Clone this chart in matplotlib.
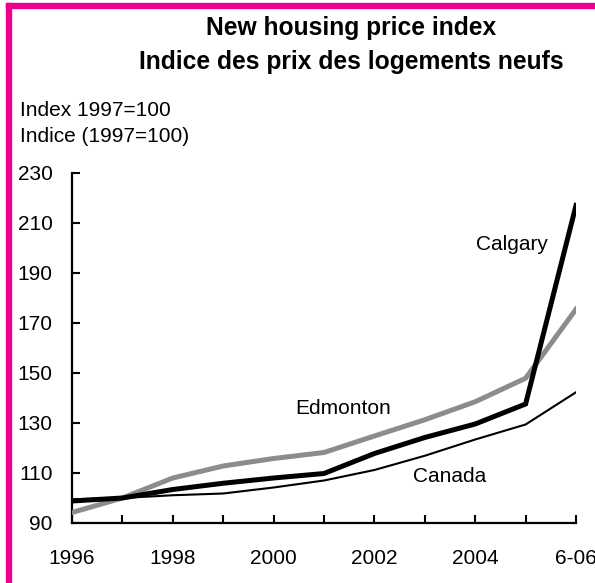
import matplotlib
matplotlib.use("Agg")
import matplotlib.pyplot as plt
from matplotlib.patches import Rectangle

plt.rcParams['font.family'] = ['Liberation Sans', 'DejaVu Sans']

years = [1996, 1997, 1998, 1999, 2000, 2001, 2002, 2003, 2004, 2005, 2006]
calgary = [98.8, 100.0, 103.4, 105.9, 108.0, 109.8, 117.8, 124.2, 129.6, 137.6, 217.0]
edmonton = [94.2, 100.0, 108.0, 112.8, 115.8, 118.2, 124.8, 131.3, 138.5, 147.9, 175.5]
canada = [99.5, 100.0, 101.1, 101.8, 104.2, 107.0, 111.2, 116.9, 123.4, 129.4, 142.3]

xtick_pos = [1996, 1998, 2000, 2002, 2004, 2006]
xtick_labels = ["1996", "1998", "2000", "2002", "2004", "6-06"]
yticks = [90, 110, 130, 150, 170, 190, 210, 230]

W, H = 595, 583
fig = plt.figure(figsize=(W / 100, H / 100), dpi=100)

ax = fig.add_axes([72 / W, (H - 523) / H, (576 - 72) / W, (523 - 173) / H])
ax.set_xlim(1996, 2006)
ax.set_ylim(90, 230)

ax.plot(years, canada, color='black', lw=1.5, solid_joinstyle='miter', zorder=3)
ax.plot(years, edmonton, color='#8c8c8c', lw=3.6, solid_joinstyle='miter', zorder=4)
ax.plot(years, calgary, color='black', lw=3.6, solid_joinstyle='miter', zorder=5)

for s in ['top', 'right']:
    ax.spines[s].set_visible(False)
for s in ['left', 'bottom']:
    ax.spines[s].set_linewidth(1.6)
    ax.spines[s].set_color('black')
ax.spines['left'].set_capstyle('projecting')
ax.spines['bottom'].set_capstyle('projecting')

label_map = dict(zip(xtick_pos, xtick_labels))
ax.set_xticks(years)
ax.set_xticklabels([label_map.get(y, "") for y in years], fontsize=15)
ax.tick_params(axis='x', direction='in', length=6, width=1.5, pad=19)
ax.set_yticks(yticks)
ax.set_yticklabels([str(v) for v in yticks], fontsize=15)
ax.tick_params(axis='y', direction='in', length=6, width=1.5, pad=14)

ax.text(2004.73, 201.2, "Calgary", fontsize=15, ha='center', va='center')
ax.text(2001.38, 136.0, "Edmonton", fontsize=15, ha='center', va='center')
ax.text(2003.5, 108.4, "Canada", fontsize=15, ha='center', va='center')

fig.text(351 / W, 1 - 28 / H, "New housing price index", fontsize=17.7,
         fontweight='bold', ha='center', va='center')
fig.text(351 / W, 1 - 62 / H, "Indice des prix des logements neufs", fontsize=17.7,
         fontweight='bold', ha='center', va='center')
fig.text(20 / W, 1 - 111 / H, "Index 1997=100", fontsize=15, ha='left', va='center')
fig.text(20 / W, 1 - 137 / H, "Indice (1997=100)", fontsize=15, ha='left', va='center')

pink = '#EC008C'
fig.patches.append(Rectangle((6 / W, 0), 5 / W, 1 - 3 / H, transform=fig.transFigure,
                             color=pink, zorder=10))
fig.patches.append(Rectangle((6 / W, 1 - 8 / H), 1, 5 / H, transform=fig.transFigure,
                             color=pink, zorder=10))

fig.savefig("out.png", dpi=100)
